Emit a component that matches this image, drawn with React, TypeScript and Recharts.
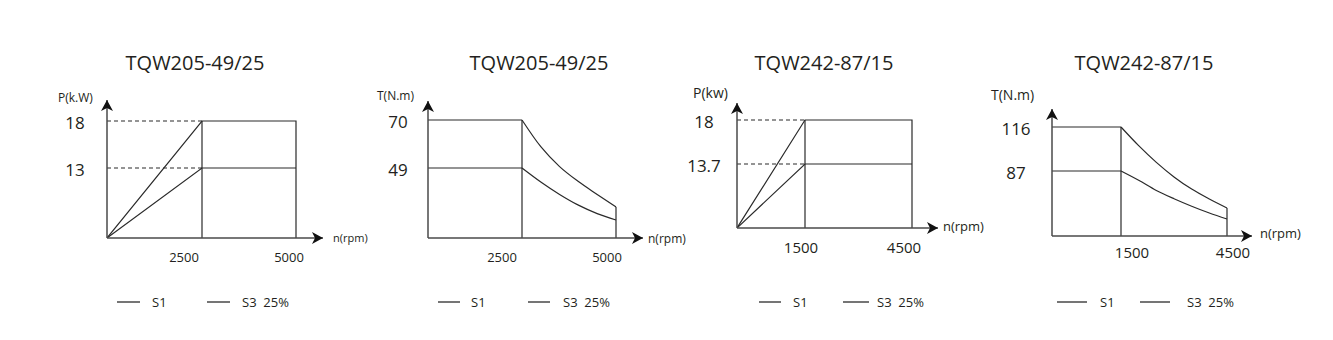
import React from 'react';
import { LineChart, Line, XAxis, YAxis } from 'recharts';

const W = 1333;
const H = 340;
const INK = '#231f20';
const LINE = '#2a2a2a';
const AXIS = '#4a4a4a';
const FONT = '"Open Sans", "DejaVu Sans", sans-serif';
const YAXIS_W = 40;
const XAXIS_H = 30;

type Pt = [number, number];

// ---- texts ----
const titles = ['TQW205-49/25', 'TQW205-49/25', 'TQW242-87/15', 'TQW242-87/15'];
const yNames = ['P(k.W)', 'T(N.m)', 'P(kw)', 'T(N.m)'];
const xName = 'n(rpm)';
const seriesNames = ['S1', 'S3  25%'];

// ---- panel 1: TQW205-49/25 power ----
const p1XTicks = [2500, 5000];
const p1YTicks = [18, 13];
const p1S3: Pt[] = [[0, 0], [2500, 18], [5000, 18], [5000, 0]];
const p1S1: Pt[] = [[0, 0], [2500, 13], [5000, 13]];
const p1Corner: Pt[] = [[2500, 0], [2500, 18]];
const p1Dash18: Pt[] = [[0, 18], [2500, 18]];
const p1Dash13: Pt[] = [[0, 13], [2500, 13]];

// ---- panel 2: TQW205-49/25 torque ----
const p2XTicks = [2500, 5000];
const p2YTicks = [70, 49];
const p2S3Flat: Pt[] = [[0, 70], [2500, 70]];
const p2S3Curve: Pt[] = [[2500, 70], [3000, 58.3], [3500, 49.6], [4000, 39.5], [4500, 30.5], [5000, 21.7]];
const p2S3Drop: Pt[] = [[5000, 21.7], [5000, 0]];
const p2S1Flat: Pt[] = [[0, 49], [2500, 49]];
const p2S1Curve: Pt[] = [[2500, 49], [3000, 39.2], [3500, 30.5], [4000, 23.0], [4500, 17.1], [5000, 12.6]];
const p2Corner: Pt[] = [[2500, 0], [2500, 70]];

// ---- panel 3: TQW242-87/15 power ----
const p3XTicks = [1500, 4500];
const p3YTicks = [18, 13.7];
const p3S3: Pt[] = [[0, 0], [1500, 18], [4500, 18], [4500, 0]];
const p3S1: Pt[] = [[0, 0], [1500, 13.7], [4500, 13.7]];
const p3Corner: Pt[] = [[1500, 0], [1500, 18]];
const p3Dash18: Pt[] = [[0, 18], [1500, 18]];
const p3Dash137: Pt[] = [[0, 13.7], [1500, 13.7]];

// ---- panel 4: TQW242-87/15 torque ----
const p4XTicks = [1500, 4500];
const p4YTicks = [116, 87];
const p4S3Flat: Pt[] = [[0, 116], [1500, 116]];
const p4S3Curve: Pt[] = [[1500, 116], [2000, 103.7], [2500, 92.7], [3000, 79.1], [3500, 62.8], [4000, 49.5], [4500, 37.5]];
const p4S3Drop: Pt[] = [[4500, 37.5], [4500, 0]];
const p4S1Flat: Pt[] = [[0, 87], [1500, 87]];
const p4S1Curve: Pt[] = [[1500, 87], [2000, 74.6], [2500, 61.0], [3000, 49.9], [3500, 39.9], [4000, 30.8], [4500, 22.8]];
const p4Corner: Pt[] = [[1500, 0], [1500, 116]];

// schematic axis: the drawing is not to scale, so map between labelled knots piecewise
function makeScale(knots: number[], px: number[]): any {
  const span = px[px.length - 1];
  const fr = px.map((p) => p / span);
  let dom = [knots[0], knots[knots.length - 1]];
  let rng = [0, 1];
  const toFrac = (v: number) => {
    let i = 1;
    while (i < knots.length - 1 && v > knots[i]) i++;
    const t = (v - knots[i - 1]) / (knots[i] - knots[i - 1]);
    return fr[i - 1] + t * (fr[i] - fr[i - 1]);
  };
  const s: any = (v: any) => rng[0] + (rng[1] - rng[0]) * toFrac(Number(v));
  s.domain = (d?: number[]) => {
    if (d === undefined) return dom.slice();
    dom = d.slice();
    return s;
  };
  s.range = (r?: number[]) => {
    if (r === undefined) return rng.slice();
    rng = r.slice();
    return s;
  };
  s.copy = () => makeScale(knots, px).domain(dom).range(rng);
  s.ticks = () => knots.slice(1, -1);
  s.tickFormat = () => (v: number) => String(v);
  s.nice = () => s;
  s.clamp = () => s;
  return s;
}

interface Seg {
  pts: Pt[];
  dashed?: boolean;
  curve?: boolean;
}

interface PanelCfg {
  ox: number;
  oy: number;
  xTip: number;
  yTip: number;
  xKnots: number[];
  xPx: number[];
  yKnots: number[];
  yPx: number[];
  xTicks: number[];
  yTicks: number[];
  xTickDx: number[];
  xTickBase: number;
  xTickSize: number;
  yLabelX: number;
  segs: Seg[];
}

const panels: PanelCfg[] = [
  {
    ox: 107, oy: 238, xTip: 323, yTip: 100,
    xKnots: [0, 2500, 5000, 5700], xPx: [0, 95, 189, 216],
    yKnots: [0, 13, 18, 21], yPx: [0, 70, 117, 138],
    xTicks: p1XTicks, yTicks: p1YTicks, xTickDx: [-18, -7], xTickBase: 262, xTickSize: 13, yLabelX: 75,
    segs: [
      { pts: p1S3 }, { pts: p1S1 }, { pts: p1Corner },
      { pts: p1Dash18, dashed: true }, { pts: p1Dash13, dashed: true },
    ],
  },
  {
    ox: 428, oy: 238, xTip: 643, yTip: 101,
    xKnots: [0, 2500, 5000, 5700], xPx: [0, 94, 188, 215],
    yKnots: [0, 49, 70, 80], yPx: [0, 70, 118, 137],
    xTicks: p2XTicks, yTicks: p2YTicks, xTickDx: [-20, -9], xTickBase: 262, xTickSize: 13, yLabelX: 398,
    segs: [
      { pts: p2S3Flat }, { pts: p2S3Curve, curve: true }, { pts: p2S3Drop },
      { pts: p2S1Flat }, { pts: p2S1Curve, curve: true }, { pts: p2Corner },
    ],
  },
  {
    ox: 737, oy: 228, xTip: 938, yTip: 103,
    xKnots: [0, 1500, 4500, 5000], xPx: [0, 68, 175, 201],
    yKnots: [0, 13.7, 18, 20], yPx: [0, 64, 108, 125],
    xTicks: p3XTicks, yTicks: p3YTicks, xTickDx: [-4, -8], xTickBase: 253, xTickSize: 15, yLabelX: 704,
    segs: [
      { pts: p3S3 }, { pts: p3S1 }, { pts: p3Corner },
      { pts: p3Dash18, dashed: true }, { pts: p3Dash137, dashed: true },
    ],
  },
  {
    ox: 1052, oy: 236, xTip: 1252, yTip: 109,
    xKnots: [0, 1500, 4500, 5000], xPx: [0, 69, 175, 200],
    yKnots: [0, 87, 116, 128], yPx: [0, 65, 109, 127],
    xTicks: p4XTicks, yTicks: p4YTicks, xTickDx: [11, 6], xTickBase: 258, xTickSize: 15, yLabelX: 1016,
    segs: [
      { pts: p4S3Flat }, { pts: p4S3Curve, curve: true }, { pts: p4S3Drop },
      { pts: p4S1Flat }, { pts: p4S1Curve, curve: true }, { pts: p4Corner },
    ],
  },
];

// overlay text placement
const titleX = [195, 539, 824, 1144];
const yNamePos = [
  { x: 58, y: 102, size: 12 },
  { x: 377, y: 100, size: 12 },
  { x: 693, y: 98, size: 14 },
  { x: 991, y: 100, size: 14 },
];
const xNamePos = [
  { x: 333, y: 242, size: 11 },
  { x: 648, y: 243, size: 12 },
  { x: 943, y: 231, size: 13 },
  { x: 1260, y: 238, size: 13 },
];
// [line start, line end, text start] for S1 then S3
const legendPos = [
  [[117, 140, 152], [207, 230, 242]],
  [[438, 460, 471], [528, 550, 563]],
  [[759, 781, 793], [843, 869, 877]],
  [[1057, 1087, 1100], [1140, 1170, 1187]],
];

const toRows = (pts: Pt[]) => pts.map(([x, y]) => ({ x, y }));

function Panel({ cfg }: { cfg: PanelCfg }) {
  const xs = makeScale(cfg.xKnots, cfg.xPx);
  const ys = makeScale(cfg.yKnots, cfg.yPx);
  return (
    <div style={{ position: 'absolute', left: 0, top: 0 }}>
      <LineChart
        width={W}
        height={H}
        margin={{ top: cfg.yTip, right: W - cfg.xTip, bottom: H - cfg.oy - XAXIS_H, left: cfg.ox - YAXIS_W }}
      >
        <XAxis
          type="number"
          dataKey="x"
          scale={xs}
          domain={[cfg.xKnots[0], cfg.xKnots[cfg.xKnots.length - 1]]}
          allowDataOverflow
          ticks={cfg.xTicks}
          interval={0}
          height={XAXIS_H}
          tickLine={false}
          axisLine={{ stroke: AXIS, strokeWidth: 1.5, markerEnd: 'url(#axisArrow)' }}
          tick={(p: any) => (
            <text
              x={p.x + cfg.xTickDx[cfg.xTicks.indexOf(p.payload.value)]}
              y={cfg.xTickBase}
              textAnchor="middle"
              fontSize={cfg.xTickSize}
              fontFamily={FONT}
              fill={INK}
            >
              {p.payload.value}
            </text>
          )}
        />
        <YAxis
          type="number"
          scale={ys}
          domain={[cfg.yKnots[0], cfg.yKnots[cfg.yKnots.length - 1]]}
          allowDataOverflow
          ticks={cfg.yTicks}
          interval={0}
          width={YAXIS_W}
          tickLine={false}
          axisLine={{ stroke: AXIS, strokeWidth: 1.5, markerStart: 'url(#axisArrow)' }}
          tick={(p: any) => (
            <text
              x={cfg.yLabelX}
              y={p.y + 2}
              dy="0.36em"
              textAnchor="middle"
              fontSize={17}
              fontFamily={FONT}
              fill={INK}
            >
              {p.payload.value}
            </text>
          )}
        />
        {cfg.segs.map((s, i) => (
          <Line
            key={i}
            data={toRows(s.pts)}
            dataKey="y"
            type={s.curve ? 'monotone' : 'linear'}
            stroke={LINE}
            strokeWidth={1.2}
            strokeDasharray={s.dashed ? '4 3' : undefined}
            dot={false}
            activeDot={false}
            legendType="none"
            isAnimationActive={false}
          />
        ))}
      </LineChart>
    </div>
  );
}

export default function App() {
  return (
    <div style={{ position: 'absolute', left: 0, top: 0, width: W, height: H, background: '#fff', overflow: 'hidden' }}>
      <svg width={0} height={0} style={{ position: 'absolute' }}>
        <defs>
          <marker
            id="axisArrow"
            viewBox="0 0 11 12"
            refX={11}
            refY={6}
            markerWidth={11}
            markerHeight={12}
            markerUnits="userSpaceOnUse"
            orient="auto-start-reverse"
          >
            <path d="M11,6 L0,0 L3,6 L0,12 Z" fill="#111" />
          </marker>
        </defs>
      </svg>
      {panels.map((cfg, i) => (
        <Panel key={i} cfg={cfg} />
      ))}
      <svg width={W} height={H} style={{ position: 'absolute', left: 0, top: 0, pointerEvents: 'none' }}>
        {titles.map((t, i) => (
          <text key={`t${i}`} x={titleX[i]} y={70} textAnchor="middle" fontSize={20} fontFamily={FONT} fill={INK}>
            {t}
          </text>
        ))}
        {yNames.map((t, i) => (
          <text key={`y${i}`} x={yNamePos[i].x} y={yNamePos[i].y} fontSize={yNamePos[i].size} fontFamily={FONT} fill={INK}>
            {t}
          </text>
        ))}
        {xNamePos.map((p, i) => (
          <text key={`x${i}`} x={p.x} y={p.y} fontSize={p.size} fontFamily={FONT} fill={INK}>
            {xName}
          </text>
        ))}
        {legendPos.map((items, i) =>
          items.map(([a, b, tx], j) => (
            <g key={`l${i}-${j}`}>
              <line x1={a} x2={b} y1={302} y2={302} stroke={LINE} strokeWidth={1.3} />
              <text x={tx} y={306.5} fontSize={13} fontFamily={FONT} fill={INK} style={{ whiteSpace: 'pre' }}>
                {seriesNames[j]}
              </text>
            </g>
          ))
        )}
      </svg>
    </div>
  );
}
